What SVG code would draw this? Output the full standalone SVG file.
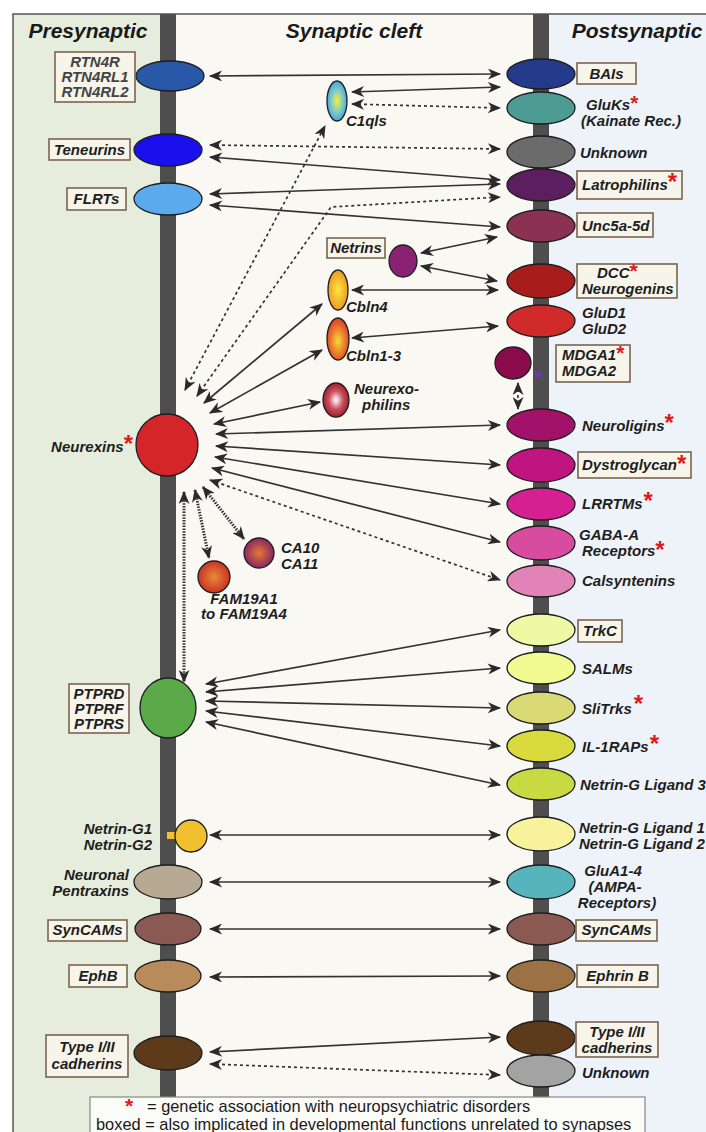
<svg xmlns="http://www.w3.org/2000/svg" width="706" height="1132" viewBox="0 0 706 1132">
<defs>
<style>
.t{font-family:"Liberation Sans",Arial,sans-serif;font-weight:bold;font-style:italic;font-size:15px;fill:#1e1e1e}
.h{font-family:"Liberation Sans",Arial,sans-serif;font-weight:bold;font-style:italic;font-size:21px;fill:#1a1a1a}
.as{font-family:"Liberation Sans",Arial,sans-serif;font-weight:bold;font-style:normal;font-size:24px;fill:#e01818}
.as2{font-family:"Liberation Sans",Arial,sans-serif;font-weight:bold;font-style:normal;font-size:21px;fill:#e01818}
.lg{font-family:"Liberation Sans",Arial,sans-serif;font-size:16.4px;fill:#1a1a1a}
.bx{fill:#f7f4ea;stroke:#7a6450;stroke-width:1.6}
.n{stroke:#1e1e1e;stroke-width:1.3}
.c{fill:none;stroke:#333;stroke-width:1.7;marker-start:url(#ah);marker-end:url(#ah)}
.d{stroke-dasharray:3 3}
.hd{stroke-width:3;stroke-dasharray:1.5 1.3}
</style>
<marker id="ah" viewBox="0 0 12 10" refX="11" refY="5" markerWidth="14" markerHeight="11" markerUnits="userSpaceOnUse" orient="auto-start-reverse">
<path d="M0,0 L12,5 L0,10 L3.5,5 Z" fill="#2a2a2a"/>
</marker>
<radialGradient id="gC1q" cx="0.5" cy="0.5" r="0.55"><stop offset="0" stop-color="#f4f03a"/><stop offset="0.55" stop-color="#7cc8c8"/><stop offset="1" stop-color="#3a9ee0"/></radialGradient>
<radialGradient id="gCb4" cx="0.5" cy="0.5" r="0.55"><stop offset="0" stop-color="#fbe640"/><stop offset="1" stop-color="#eb9420"/></radialGradient>
<radialGradient id="gCb1" cx="0.5" cy="0.55" r="0.55"><stop offset="0" stop-color="#f8d838"/><stop offset="1" stop-color="#de3a22"/></radialGradient>
<radialGradient id="gNxph" cx="0.5" cy="0.5" r="0.55"><stop offset="0" stop-color="#ffffff"/><stop offset="0.5" stop-color="#c85060"/><stop offset="1" stop-color="#9a1424"/></radialGradient>
<radialGradient id="gCA" cx="0.5" cy="0.5" r="0.55"><stop offset="0" stop-color="#e87a30"/><stop offset="1" stop-color="#7e1e6a"/></radialGradient>
<radialGradient id="gFAM" cx="0.5" cy="0.5" r="0.55"><stop offset="0" stop-color="#e88a3a"/><stop offset="1" stop-color="#c82a24"/></radialGradient>
</defs>

<!-- background regions -->
<rect x="13" y="14" width="147" height="1118" fill="#e6eddc"/>
<rect x="176" y="14" width="357" height="1118" fill="#f9f8f3"/>
<rect x="549" y="14" width="157" height="1118" fill="#eef3f9"/>
<rect x="13" y="14" width="700" height="1130" fill="none" stroke="#555" stroke-width="1.5"/>
<rect x="160" y="14" width="16" height="1118" fill="#4e4e4e"/>
<rect x="533" y="14" width="16" height="1118" fill="#4e4e4e"/>

<text class="h" x="88" y="38" text-anchor="middle">Presynaptic</text>
<text class="h" x="354" y="38" text-anchor="middle">Synaptic cleft</text>
<text class="h" x="637" y="38" text-anchor="middle">Postsynaptic</text>

<!-- connectors -->
<g id="connectors">
<line class="c" x1="210" y1="76" x2="500" y2="74"/>
<line class="c" x1="352" y1="92" x2="500" y2="87"/>
<line class="c d" x1="352" y1="104" x2="500" y2="108"/>
<line class="c d" x1="210" y1="145" x2="500" y2="149"/>
<line class="c" x1="210" y1="157" x2="500" y2="180"/>
<line class="c" x1="210" y1="194" x2="500" y2="184"/>
<line class="c" x1="210" y1="205" x2="500" y2="227"/>
<line class="c" x1="421" y1="253" x2="497" y2="237"/>
<line class="c" x1="421" y1="266" x2="497" y2="281"/>
<line class="c" x1="352" y1="290" x2="498" y2="290"/>
<line class="c" x1="352" y1="338" x2="498" y2="326"/>
<line class="c d" x1="185" y1="390" x2="325" y2="126"/>
<polyline class="c d" points="197,396 331,207 500,197"/>
<line class="c" x1="204" y1="403" x2="322" y2="304"/>
<line class="c" x1="210" y1="413" x2="322" y2="350"/>
<line class="c" x1="214" y1="424" x2="320" y2="402"/>
<line class="c" x1="216" y1="434" x2="500" y2="425"/>
<line class="c" x1="216" y1="446" x2="500" y2="465"/>
<line class="c" x1="215" y1="457" x2="500" y2="504"/>
<line class="c" x1="212" y1="468" x2="500" y2="542"/>
<line class="c d" x1="210" y1="480" x2="500" y2="580"/>
<line class="c hd" x1="203" y1="487" x2="244" y2="539"/>
<line class="c hd" x1="195" y1="490" x2="209" y2="558"/>
<line class="c hd" x1="184" y1="492" x2="184" y2="682"/>
<line class="c d" x1="518" y1="383" x2="518" y2="409"/>
<line class="c" x1="206" y1="684" x2="500" y2="630"/>
<line class="c" x1="206" y1="692" x2="500" y2="668"/>
<line class="c" x1="206" y1="701" x2="500" y2="708"/>
<line class="c" x1="206" y1="711" x2="500" y2="746"/>
<line class="c" x1="206" y1="722" x2="500" y2="785"/>
<line class="c" x1="210" y1="835" x2="500" y2="835"/>
<line class="c" x1="210" y1="882" x2="500" y2="882"/>
<line class="c" x1="210" y1="929" x2="500" y2="929"/>
<line class="c" x1="210" y1="977" x2="500" y2="976"/>
<line class="c" x1="210" y1="1052" x2="500" y2="1037"/>
<line class="c d" x1="210" y1="1064" x2="500" y2="1075"/>
</g>

<!-- presynaptic nodes -->
<g id="rtn4r"><ellipse class="n" cx="170" cy="76" rx="34" ry="15" fill="#2a58a8"/>
<rect class="bx" x="55" y="52" width="80" height="50"/>
<text class="t" x="95" y="67" text-anchor="middle" style="fill:#444">RTN4R</text>
<text class="t" x="95" y="82" text-anchor="middle" style="fill:#444">RTN4RL1</text>
<text class="t" x="95" y="97" text-anchor="middle" style="fill:#444">RTN4RL2</text></g>
<g id="teneurins"><ellipse class="n" cx="168" cy="150" rx="34" ry="16" fill="#1a10ee"/>
<rect class="bx" x="49" y="139" width="81" height="21"/>
<text class="t" x="89.5" y="155" text-anchor="middle">Teneurins</text></g>
<g id="flrts"><ellipse class="n" cx="168" cy="199" rx="34" ry="16" fill="#5caaee"/>
<rect class="bx" x="67" y="188" width="59" height="22"/>
<text class="t" x="96.5" y="204" text-anchor="middle">FLRTs</text></g>
<g id="neurexins"><ellipse class="n" cx="167" cy="445" rx="31" ry="31" fill="#d42628"/>
<text class="t" x="133" y="452" text-anchor="end">Neurexins<tspan class="as">*</tspan></text></g>
<g id="ptpr"><ellipse class="n" cx="168" cy="708" rx="28" ry="30" fill="#5aaa4a"/>
<rect class="bx" x="69" y="684" width="60" height="49"/>
<text class="t" x="99" y="699" text-anchor="middle">PTPRD</text>
<text class="t" x="99" y="714" text-anchor="middle">PTPRF</text>
<text class="t" x="99" y="729" text-anchor="middle">PTPRS</text></g>
<g id="netring"><rect x="167" y="832" width="10" height="7" fill="#f0c030"/>
<circle class="n" cx="191" cy="836" r="16" fill="#f0c030"/>
<text class="t" x="152" y="834" text-anchor="end">Netrin-G1</text>
<text class="t" x="152" y="850" text-anchor="end">Netrin-G2</text></g>
<g id="pentraxins"><ellipse class="n" cx="168" cy="882" rx="34" ry="17" fill="#b8aa92"/>
<text class="t" x="129" y="880" text-anchor="end">Neuronal</text>
<text class="t" x="129" y="896" text-anchor="end">Pentraxins</text></g>
<g id="syncams-pre"><ellipse class="n" cx="168" cy="929" rx="33" ry="16" fill="#8a5a52"/>
<rect class="bx" x="48" y="920" width="79" height="21"/>
<text class="t" x="87.5" y="935" text-anchor="middle">SynCAMs</text></g>
<g id="ephb"><ellipse class="n" cx="168" cy="976" rx="33" ry="16" fill="#b98b5a"/>
<rect class="bx" x="69" y="965" width="58" height="22"/>
<text class="t" x="98" y="981" text-anchor="middle">EphB</text></g>
<g id="cadherins-pre"><ellipse class="n" cx="168" cy="1053" rx="34" ry="17" fill="#5c3a1a"/>
<rect class="bx" x="46" y="1035" width="82" height="42"/>
<text class="t" x="87" y="1052" text-anchor="middle">Type I/II</text>
<text class="t" x="87" y="1069" text-anchor="middle">cadherins</text></g>

<!-- cleft nodes -->
<g id="c1qls"><ellipse class="n" cx="337" cy="101" rx="10" ry="20" fill="url(#gC1q)"/>
<text class="t" x="346" y="126">C1qls</text></g>
<g id="netrins"><ellipse class="n" cx="403" cy="261" rx="14" ry="16" fill="#8a2272"/>
<rect class="bx" x="327" y="238" width="58" height="20"/>
<text class="t" x="356" y="253" text-anchor="middle">Netrins</text></g>
<g id="cbln4"><ellipse class="n" cx="338" cy="290" rx="10" ry="20" fill="url(#gCb4)"/>
<text class="t" x="346" y="312">Cbln4</text></g>
<g id="cbln13"><ellipse class="n" cx="338" cy="339" rx="11" ry="21" fill="url(#gCb1)"/>
<text class="t" x="346" y="361">Cbln1-3</text></g>
<g id="nxph"><ellipse class="n" cx="336" cy="400" rx="13" ry="17" fill="url(#gNxph)"/>
<text class="t" x="354" y="394">Neurexo-</text>
<text class="t" x="362" y="410">philins</text></g>
<g id="ca10"><circle class="n" cx="259" cy="553" r="15" fill="url(#gCA)"/>
<text class="t" x="281" y="553">CA10</text>
<text class="t" x="281" y="569">CA11</text></g>
<g id="fam19a"><circle class="n" cx="214" cy="577" r="16" fill="url(#gFAM)"/>
<text class="t" x="244" y="604" text-anchor="middle">FAM19A1</text>
<text class="t" x="244" y="619" text-anchor="middle">to FAM19A4</text></g>

<!-- postsynaptic nodes -->
<g id="bais"><ellipse class="n" cx="541" cy="74" rx="34" ry="15" fill="#243b8c"/>
<rect class="bx" x="577" y="63" width="59" height="21"/>
<text class="t" x="606.5" y="79" text-anchor="middle">BAIs</text></g>
<g id="gluks"><ellipse class="n" cx="541" cy="108" rx="34" ry="16" fill="#4d9c93"/>
<text class="t" x="586" y="110">GluKs<tspan class="as2">*</tspan></text>
<text class="t" x="581" y="126">(Kainate Rec.)</text></g>
<g id="unknown1"><ellipse class="n" cx="541" cy="152" rx="34" ry="16" fill="#6b6b6b"/>
<text class="t" x="580" y="158">Unknown</text></g>
<g id="latrophilins"><ellipse class="n" cx="541" cy="185" rx="34" ry="16" fill="#5c1e5e"/>
<rect class="bx" x="577" y="171" width="105" height="28"/>
<text class="t" x="582" y="190">Latrophilins<tspan class="as">*</tspan></text></g>
<g id="unc5"><ellipse class="n" cx="541" cy="226" rx="34" ry="16" fill="#8b3152"/>
<rect class="bx" x="577" y="213" width="76" height="24"/>
<text class="t" x="582" y="231">Unc5a-5d</text></g>
<g id="dcc"><ellipse class="n" cx="541" cy="281" rx="34" ry="17" fill="#a81c1c"/>
<rect class="bx" x="577" y="264" width="100" height="34"/>
<text class="t" x="597" y="278">DCC<tspan class="as2">*</tspan></text>
<text class="t" x="582" y="294">Neurogenins</text></g>
<g id="glud"><ellipse class="n" cx="541" cy="321" rx="34" ry="16" fill="#d12a2a"/>
<text class="t" x="582" y="318">GluD1</text>
<text class="t" x="582" y="334">GluD2</text></g>
<g id="mdga"><rect x="535" y="371" width="7" height="6" fill="#6a3aa8"/>
<ellipse class="n" cx="513" cy="363" rx="18" ry="16" fill="#8a0a4c"/>
<rect class="bx" x="556" y="345" width="74" height="37"/>
<text class="t" x="562" y="360">MDGA1<tspan class="as2">*</tspan></text>
<text class="t" x="562" y="376">MDGA2</text></g>
<g id="neuroligins"><ellipse class="n" cx="541" cy="425" rx="34" ry="16" fill="#a3126a"/>
<text class="t" x="582" y="431">Neuroligins<tspan class="as">*</tspan></text></g>
<g id="dystroglycan"><ellipse class="n" cx="541" cy="465" rx="34" ry="17" fill="#c01480"/>
<rect class="bx" x="578" y="452" width="113" height="26"/>
<text class="t" x="582" y="470">Dystroglycan<tspan class="as" dy="2">*</tspan></text></g>
<g id="lrrtms"><ellipse class="n" cx="541" cy="504" rx="34" ry="16" fill="#d42090"/>
<text class="t" x="582" y="509">LRRTMs<tspan class="as" dx="1">*</tspan></text></g>
<g id="gabaa"><ellipse class="n" cx="541" cy="543" rx="34" ry="17" fill="#d74c9e"/>
<text class="t" x="609" y="540" text-anchor="middle">GABA-A</text>
<text class="t" x="582" y="556">Receptors<tspan class="as" dy="2">*</tspan></text></g>
<g id="calsyntenins"><ellipse class="n" cx="541" cy="581" rx="34" ry="16" fill="#e283b8"/>
<text class="t" x="582" y="586">Calsyntenins</text></g>
<g id="trkc"><ellipse class="n" cx="541" cy="630" rx="34" ry="16" fill="#eef9a5"/>
<rect class="bx" x="578" y="620" width="44" height="22"/>
<text class="t" x="600" y="636" text-anchor="middle">TrkC</text></g>
<g id="salms"><ellipse class="n" cx="541" cy="668" rx="34" ry="16" fill="#f2fb92"/>
<text class="t" x="582" y="674">SALMs</text></g>
<g id="slitrks"><ellipse class="n" cx="541" cy="708" rx="34" ry="16" fill="#d9d975"/>
<text class="t" x="582" y="714">SliTrks<tspan class="as" dx="2" dy="-2">*</tspan></text></g>
<g id="il1raps"><ellipse class="n" cx="541" cy="746" rx="34" ry="16" fill="#d9db3c"/>
<text class="t" x="582" y="752">IL-1RAPs<tspan class="as" dx="1">*</tspan></text></g>
<g id="ngl3"><ellipse class="n" cx="541" cy="784" rx="34" ry="16" fill="#c7da42"/>
<text class="t" x="580" y="790">Netrin-G Ligand 3</text></g>
<g id="ngl12"><ellipse class="n" cx="541" cy="834" rx="34" ry="17" fill="#f9f29d"/>
<text class="t" x="579" y="833">Netrin-G Ligand 1</text>
<text class="t" x="579" y="849">Netrin-G Ligand 2</text></g>
<g id="glua"><ellipse class="n" cx="541" cy="882" rx="34" ry="17" fill="#55b4bc"/>
<text class="t" x="613" y="876" text-anchor="middle">GluA1-4</text>
<text class="t" x="615" y="892" text-anchor="middle">(AMPA-</text>
<text class="t" x="617" y="908" text-anchor="middle">Receptors)</text></g>
<g id="syncams-post"><ellipse class="n" cx="541" cy="929" rx="34" ry="16" fill="#8a5a52"/>
<rect class="bx" x="576" y="920" width="81" height="21"/>
<text class="t" x="616.5" y="935" text-anchor="middle">SynCAMs</text></g>
<g id="ephrinb"><ellipse class="n" cx="541" cy="976" rx="34" ry="16" fill="#9c7244"/>
<rect class="bx" x="577" y="965" width="81" height="22"/>
<text class="t" x="617.5" y="981" text-anchor="middle">Ephrin B</text></g>
<g id="cadherins-post"><ellipse class="n" cx="541" cy="1038" rx="34" ry="17" fill="#5c3a1a"/>
<rect class="bx" x="576" y="1022" width="82" height="35"/>
<text class="t" x="617" y="1037" text-anchor="middle">Type I/II</text>
<text class="t" x="617" y="1053" text-anchor="middle">cadherins</text></g>
<g id="unknown2"><ellipse class="n" cx="541" cy="1071" rx="34" ry="16" fill="#a3a3a3"/>
<text class="t" x="582" y="1078">Unknown</text></g>

<!-- legend -->
<g id="legend"><rect x="90" y="1097" width="555" height="45" fill="#fbfbf8" stroke="#888" stroke-width="1.2"/>
<text class="lg" x="125" y="1113"><tspan class="as2">*</tspan><tspan x="147" y="1112">= genetic association with neuropsychiatric disorders</tspan></text>
<text class="lg" x="96" y="1130">boxed = also implicated in developmental functions unrelated to synapses</text></g>
</svg>
